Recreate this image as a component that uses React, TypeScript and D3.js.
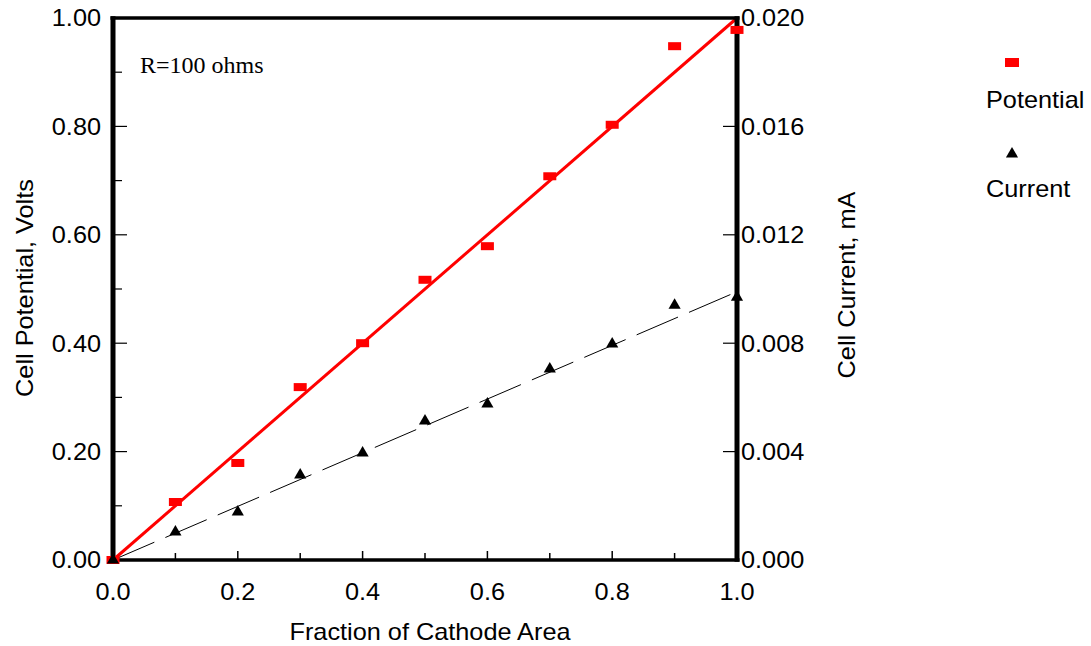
import React from "react";
import * as d3 from "d3";

// Fraction of cathode area (x), cell potential in volts (left axis) and cell current in mA (right axis)
const fractions = [0, 0.1, 0.2, 0.3, 0.4, 0.5, 0.6, 0.7, 0.8, 0.9, 1.0];
const potential = [0, 0.107, 0.179, 0.319, 0.4, 0.517, 0.579, 0.708, 0.803, 0.948, 0.978];
const current = [0, 0.00103, 0.00177, 0.00314, 0.00395, 0.00513, 0.00576, 0.00705, 0.00797, 0.0094, 0.0097];

// Linear fits through the origin
const potentialSlope = 1.0;
const currentSlope = 0.0099;

const xTicks = [0, 0.2, 0.4, 0.6, 0.8, 1.0];
const xMinorTicks = [0.1, 0.3, 0.5, 0.7, 0.9];
const yLeftTicks = [0, 0.2, 0.4, 0.6, 0.8, 1.0];
const yLeftMinorTicks = [0.1, 0.3, 0.5, 0.7, 0.9];
const yRightTicks = [0, 0.004, 0.008, 0.012, 0.016, 0.02];

const W = 1091;
const H = 646;
const left = 113;
const right = 737;
const top = 18;
const bottom = 560;

const SANS = "'Liberation Sans', Arial, sans-serif";
const FS = 23;
const SX = 1.1;

// Sans label with a slightly widened face
function Label({
  x,
  y,
  anchor = "start",
  rotate = 0,
  children,
}: {
  x: number;
  y: number;
  anchor?: "start" | "middle" | "end";
  rotate?: number;
  children: React.ReactNode;
}) {
  return (
    <text
      transform={`translate(${x},${y}) rotate(${rotate}) scale(${SX},1)`}
      fontSize={FS}
      fontFamily={SANS}
      textAnchor={anchor}
      fill="#000"
    >
      {children}
    </text>
  );
}

export default function App() {
  const x = d3.scaleLinear().domain([0, 1]).range([left, right]);
  const yL = d3.scaleLinear().domain([0, 1]).range([bottom, top]);
  const yR = d3.scaleLinear().domain([0, 0.02]).range([bottom, top]);

  const tri = d3.symbol().type(d3.symbolTriangle).size(64)() || "";

  const potLine = d3.line<number>().x((d) => x(d)).y((d) => yL(potentialSlope * d))([0, 1]) || "";
  const curLine = d3.line<number>().x((d) => x(d)).y((d) => yR(currentSlope * d))([0, 1]) || "";

  return (
    <svg
      width={W}
      height={H}
      style={{ position: "absolute", left: 0, top: 0, background: "#fff" }}
    >
      {/* fit lines */}
      <path d={potLine} stroke="#ff0000" strokeWidth={3} fill="none" />
      <path d={curLine} stroke="#000" strokeWidth={1} fill="none" strokeDasharray="45,12" />

      {/* frame: heavier vertical axes */}
      <line x1={left - 2.5} x2={right + 2.5} y1={top} y2={top} stroke="#000" strokeWidth={3.5} />
      <line x1={left - 2.5} x2={right + 2.5} y1={bottom} y2={bottom} stroke="#000" strokeWidth={3.5} />
      <line x1={left} x2={left} y1={top - 1.75} y2={bottom + 1.75} stroke="#000" strokeWidth={5} />
      <line x1={right} x2={right} y1={top - 1.75} y2={bottom + 1.75} stroke="#000" strokeWidth={5} />

      {/* bottom axis ticks */}
      {xTicks.map((t) => (
        <g key={"xt" + t}>
          <line x1={x(t)} x2={x(t)} y1={bottom} y2={bottom - 9} stroke="#000" strokeWidth={1.5} />
          <Label x={x(t)} y={600} anchor="middle">
            {d3.format(".1f")(t)}
          </Label>
        </g>
      ))}
      {xMinorTicks.map((t) => (
        <line key={"xm" + t} x1={x(t)} x2={x(t)} y1={bottom} y2={bottom - 7} stroke="#000" strokeWidth={1.5} />
      ))}

      {/* left axis ticks */}
      {yLeftTicks.map((t) => (
        <g key={"yl" + t}>
          <line x1={left} x2={left + 14} y1={yL(t)} y2={yL(t)} stroke="#000" strokeWidth={1.2} />
          <Label x={101} y={yL(t) + 8.4} anchor="end">
            {d3.format(".2f")(t)}
          </Label>
        </g>
      ))}
      {yLeftMinorTicks.map((t) => (
        <line key={"ylm" + t} x1={left} x2={left + 9} y1={yL(t)} y2={yL(t)} stroke="#000" strokeWidth={1.2} />
      ))}

      {/* right axis ticks */}
      {yRightTicks.map((t) => (
        <g key={"yr" + t}>
          <line x1={right} x2={right - 14} y1={yR(t)} y2={yR(t)} stroke="#000" strokeWidth={1.2} />
          <Label x={741} y={yR(t) + 8.4} anchor="start">
            {d3.format(".3f")(t)}
          </Label>
        </g>
      ))}

      {/* data markers */}
      {fractions.map((f, i) => (
        <rect key={"p" + i} x={x(f) - 6.5} y={yL(potential[i]) - 4} width={13} height={8} fill="#ff0000" />
      ))}
      {fractions.map((f, i) => (
        <path key={"c" + i} d={tri} transform={`translate(${x(f)},${yR(current[i])})`} fill="#000" />
      ))}

      {/* annotation */}
      <text x={140} y={73} fontSize={24} fontFamily="'Liberation Serif', 'Times New Roman', serif">
        R=100 ohms
      </text>

      {/* axis titles */}
      <Label x={430} y={640} anchor="middle">
        Fraction of Cathode Area
      </Label>
      <Label x={33} y={288} anchor="middle" rotate={-90}>
        Cell Potential, Volts
      </Label>
      <Label x={855} y={285} anchor="middle" rotate={-90}>
        Cell Current, mA
      </Label>

      {/* legend */}
      <rect x={1005} y={58} width={14} height={9} fill="#ff0000" />
      <Label x={986} y={108}>Potential</Label>
      <path d={tri} transform="translate(1012,154)" fill="#000" />
      <Label x={986} y={197}>Current</Label>
    </svg>
  );
}
